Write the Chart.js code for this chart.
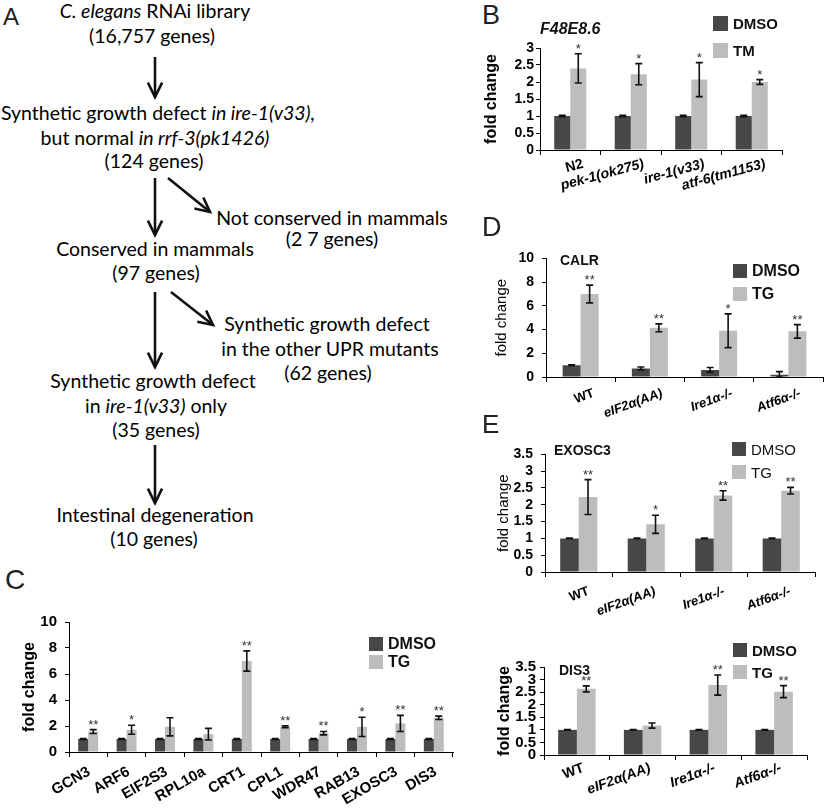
<!DOCTYPE html>
<html lang="en">
<head>
<meta charset="UTF-8">
<title>UPR synthetic growth screen</title>
<script src="https://cdn.jsdelivr.net/npm/chart.js"></script>
<style>
  html, body { margin: 0; padding: 0; background: #fff; overflow: hidden; }
  #page { position: relative; width: 825px; height: 812px; overflow: hidden;
          font-family: "Liberation Sans", Arial, sans-serif; color: #111; }
  .flow { position: absolute; font-family: Lato, "Open Sans", sans-serif; font-size: 19.5px;
          line-height: 19.5px; white-space: nowrap; color: #000; transform: translateX(-50%); }
  .txt { position: absolute; white-space: nowrap; line-height: 1; color: #111; }
  .cat { position: absolute; white-space: nowrap; line-height: 1; color: #000; font-weight: bold;
         transform-origin: 100% 0; }
  .sq { position: absolute; }
  canvas { position: absolute; }
  svg { position: absolute; left: 0; top: 0; }
</style>
</head>
<body>
<div id="page">
  <svg id="arrows" width="440" height="560"></svg>
  <canvas id="chartB"></canvas>
  <canvas id="chartC"></canvas>
  <canvas id="chartD"></canvas>
  <canvas id="chartE1"></canvas>
  <canvas id="chartE2"></canvas>
</div>

<script>
  // ---- data ----
  const catB = ["N2", "pek-1(ok275)", "ire-1(v33)", "atf-6(tm1153)"];
  const dmsoB = [1, 1, 1, 1];
  const dmsoErrB = [0.02, 0.02, 0.02, 0.02];
  const tmB = [2.40, 2.23, 2.07, 2.00];
  const tmErrB = [0.43, 0.31, 0.50, 0.07];
  const starsB = ["*", "*", "*", "*"];

  const catC = ["GCN3", "ARF6", "EIF2S3", "RPL10a", "CRT1", "CPL1", "WDR47", "RAB13", "EXOSC3", "DIS3"];
  const dmsoC = [1, 1, 1, 1, 1, 1, 1, 1, 1, 1];
  const dmsoErrC = [0.04, 0.04, 0.04, 0.04, 0.04, 0.04, 0.04, 0.04, 0.04, 0.04];
  const tgC = [1.57, 1.71, 1.94, 1.37, 7.0, 1.94, 1.45, 1.93, 2.2, 2.63];
  const tgErrC = [0.15, 0.35, 0.70, 0.45, 0.78, 0.07, 0.13, 0.74, 0.62, 0.13];
  const starsC = ["**", "*", "", "", "**", "**", "**", "*", "**", "**"];

  const catMouse = ["WT", "eIF2\u03b1(AA)", "Ire1\u03b1-/-", "Atf6\u03b1-/-"];

  const dmsoD = [1.0, 0.72, 0.6, 0.2];
  const dmsoErrD = [0.03, 0.12, 0.2, 0.25];
  const tgD = [7.0, 4.15, 3.9, 3.85];
  const tgErrD = [0.75, 0.33, 1.42, 0.57];
  const starsD = ["**", "**", "*", "**"];

  const dmsoExosc3 = [1, 1, 1, 1];
  const dmsoErrExosc3 = [0.01, 0.01, 0.01, 0.01];
  const tgExosc3 = [2.23, 1.42, 2.28, 2.42];
  const tgErrExosc3 = [0.52, 0.27, 0.14, 0.10];
  const starsExosc3 = ["**", "*", "**", "**"];

  const dmsoDis3 = [1, 1, 1, 1];
  const dmsoErrDis3 = [0.01, 0.01, 0.01, 0.01];
  const tgDis3 = [2.63, 1.17, 2.78, 2.52];
  const tgErrDis3 = [0.12, 0.10, 0.40, 0.24];
  const starsDis3 = ["**", "", "**", "**"];

  const DARK = "#474747";
  const LIGHT = "#bdbdbd";
  const page = document.getElementById("page");

  // ---- panel A : flow chart text ----
  const flow = [
    ["<i>C. elegans</i> RNAi library", 155, 12],
    ["(16,757 genes)", 152, 37],
    ["Synthetic growth defect <i>in ire-1(v33),</i>", 158, 114],
    ["but normal <i>in rrf-3(pk1426)</i>", 155, 139],
    ["(124 genes)", 154, 162],
    ["Not conserved in mammals", 332, 219],
    ["(2 7 genes)", 332, 240],
    ["Conserved in mammals", 155, 250],
    ["(97 genes)", 156, 274],
    ["Synthetic growth defect", 327, 325],
    ["in the other UPR mutants", 330, 350],
    ["(62 genes)", 328, 374],
    ["Synthetic growth defect", 153, 382],
    ["in <i>ire-1(v33)</i> only", 156, 407],
    ["(35 genes)", 156, 431],
    ["Intestinal degeneration", 155, 516],
    ["(10 genes)", 154, 540]
  ];
  flow.forEach(([html, cx, cy]) => {
    const d = document.createElement("div");
    d.className = "flow";
    d.innerHTML = html;
    d.style.left = cx + "px";
    d.style.top = (cy - 0.58 * 19.5) + "px";
    page.appendChild(d);
  });

  const arrows = [
    [155, 57, 155, 97], [155, 178, 155, 235], [168, 178, 210, 212],
    [155, 292, 155, 367], [171, 292, 213, 325], [155, 445, 155, 503]
  ];
  const svg = document.getElementById("arrows");
  let svgHtml = "";
  arrows.forEach(([x1, y1, x2, y2]) => {
    const a = Math.atan2(y2 - y1, x2 - x1);
    const len = 16, spread = 0.46;
    const p1 = [x2 - len * Math.cos(a - spread), y2 - len * Math.sin(a - spread)];
    const p2 = [x2 - len * Math.cos(a + spread), y2 - len * Math.sin(a + spread)];
    svgHtml += `<line x1="${x1}" y1="${y1}" x2="${x2}" y2="${y2}" stroke="#111" stroke-width="2.6"/>`;
    svgHtml += `<polyline points="${p1[0]},${p1[1]} ${x2},${y2} ${p2[0]},${p2[1]}" fill="none" stroke="#111" stroke-width="2.6" stroke-linejoin="miter"/>`;
  });
  svg.innerHTML = svgHtml;

  // ---- labels, titles, legends ----
  function addText(text, x, cy, size, style) {
    const d = document.createElement("div");
    d.className = "txt";
    d.textContent = text;
    d.style.left = x + "px";
    d.style.top = (cy - size / 2) + "px";
    d.style.fontSize = size + "px";
    Object.assign(d.style, style || {});
    page.appendChild(d);
    return d;
  }
  function addSquare(x, y, w, h, color) {
    const d = document.createElement("div");
    d.className = "sq";
    Object.assign(d.style, { left: x + "px", top: y + "px", width: w + "px", height: h + "px", background: color });
    page.appendChild(d);
  }
  function addLegend(x, y1, y2, sq, size, treat, weight) {
    addSquare(x, y1, sq, sq, DARK);
    addSquare(x, y2, sq, sq, LIGHT);
    addText("DMSO", x + sq + 5, y1 + sq / 2, size, { fontWeight: weight });
    addText(treat, x + sq + 5, y2 + sq / 2, size, { fontWeight: weight });
  }

  addText("A", 3, 17, 24, { color: "#222" });
  addText("B", 482, 15, 27, { color: "#222" });
  addText("C", 5, 580, 28, { color: "#222" });
  addText("D", 482, 227, 27, { color: "#222" });
  addText("E", 482, 424, 26, { color: "#222" });

  addText("F48E8.6", 540, 29, 16, { fontWeight: "bold", fontStyle: "italic" });
  addText("CALR", 560, 260, 14, { fontWeight: "bold" });
  addText("EXOSC3", 554, 450, 14, { fontWeight: "bold" });
  addText("DIS3", 559, 670, 14, { fontWeight: "bold" });

  addLegend(713, 16, 43, 15, 15, "TM", "bold");
  addLegend(369, 637, 655, 14, 16, "TG", "bold");
  addLegend(733, 264, 287, 14, 16, "TG", "bold");
  addLegend(732, 442, 465, 14, 15, "TG", "normal");
  addLegend(733, 643, 665, 14, 15, "TG", "bold");

  // ---- error bars + significance stars ----
  const errorBars = {
    id: "errorBars",
    afterDatasetsDraw(chart) {
      const ctx = chart.ctx;
      const yScale = chart.scales.y;
      ctx.save();
      chart.data.datasets.forEach((ds, di) => {
        const meta = chart.getDatasetMeta(di);
        meta.data.forEach((bar, i) => {
          const v = ds.data[i], e = ds.errors[i];
          const yHi = yScale.getPixelForValue(v + e);
          const yLo = yScale.getPixelForValue(Math.max(v - e, 0));
          ctx.strokeStyle = "#111";
          ctx.lineWidth = 1.6;
          ctx.beginPath();
          ctx.moveTo(bar.x, yHi); ctx.lineTo(bar.x, yLo);
          ctx.moveTo(bar.x - 3.5, yHi); ctx.lineTo(bar.x + 3.5, yHi);
          ctx.moveTo(bar.x - 3.5, yLo); ctx.lineTo(bar.x + 3.5, yLo);
          ctx.stroke();
          if (ds.stars && ds.stars[i]) {
            ctx.fillStyle = "#333";
            ctx.font = "13px 'Liberation Sans', Arial";
            ctx.textAlign = "center";
            ctx.textBaseline = "alphabetic";
            ctx.fillText(ds.stars[i], bar.x, yHi - 1);
          }
        });
      });
      ctx.restore();
    }
  };

  // slanted category labels as page text, anchored at the x scale's tick positions
  function slantLabels(chart, left, top, o) {
    const xs = chart.scales.x;
    chart.data.labels.forEach((lab, i) => {
      const d = document.createElement("div");
      d.className = "cat";
      d.textContent = lab;
      d.style.fontSize = o.xSize + "px";
      d.style.fontStyle = (o.italic && i > 0) ? "italic" : "normal";
      page.appendChild(d);
      const ax = left + xs.getPixelForTick(i) + o.dx;
      const ay = top + xs.top + o.dy;
      d.style.left = (ax - d.offsetWidth) + "px";
      d.style.top = ay + "px";
      d.style.transform = "rotate(" + (-o.rot) + "deg)";
    });
  }

  function barChart(id, g, labels, dmso, dmsoErr, tg, tgErr, stars, o) {
    const cv = document.getElementById(id);
    const padTop = 14, padRight = 12;
    const x = g.axisX - o.yW, y = g.yTop - padTop;
    const w = g.axisRight + padRight - x, h = g.yBot + o.xH - y;
    cv.width = w; cv.height = h;
    cv.style.left = x + "px"; cv.style.top = y + "px";
    const chart = new Chart(cv, {
      type: "bar",
      data: {
        labels: labels,
        datasets: [
          { label: "DMSO", data: dmso, errors: dmsoErr, backgroundColor: DARK,
            barPercentage: 1, categoryPercentage: o.cat },
          { label: o.treat, data: tg, errors: tgErr, stars: stars, backgroundColor: LIGHT,
            barPercentage: 1, categoryPercentage: o.cat }
        ]
      },
      options: {
        responsive: false,
        animation: false,
        layout: { padding: { top: padTop, right: padRight, left: 0, bottom: 0 } },
        plugins: { legend: { display: false }, tooltip: { enabled: false } },
        scales: {
          x: {
            grid: { drawOnChartArea: false, tickLength: 5, color: "#000", offset: true },
            border: { color: "#000", width: 1 },
            ticks: { display: false },
            afterFit: (s) => { s.height = o.xH; }
          },
          y: {
            min: 0, max: o.max,
            border: { color: "#000", width: 1 },
            grid: { drawOnChartArea: false, tickLength: 4, color: "#000" },
            ticks: { stepSize: o.step, autoSkip: false, color: "#000", padding: o.tickPad,
                     callback: (v) => String(Math.round(v * 10) / 10),
                     font: { family: "'Liberation Sans', Arial", size: o.ySize, weight: "bold" } },
            title: { display: true, text: "fold change", color: "#000", padding: { top: 2, bottom: 0 },
                     font: { family: "'Liberation Sans', Arial", size: o.tSize, weight: o.tWeight } },
            afterFit: (s) => { s.width = o.yW; }
          }
        }
      },
      plugins: [errorBars]
    });
    slantLabels(chart, x, y, o);
    return chart;
  }

  barChart("chartB", { axisX: 540, axisRight: 782, yTop: 48, yBot: 150 },
    catB, dmsoB, dmsoErrB, tmB, tmErrB, starsB,
    { treat: "TM", max: 3, step: 0.5, yW: 60, xH: 75, cat: 0.53, rot: 15, dx: 11, dy: 6,
      xSize: 14, italic: true, ySize: 14, tickPad: 2, tSize: 16, tWeight: "bold" });

  barChart("chartC", { axisX: 69, axisRight: 453, yTop: 619, yBot: 752 },
    catC, dmsoC, dmsoErrC, tgC, tgErrC, starsC,
    { treat: "TG", max: 10, step: 2, yW: 51, xH: 62, cat: 0.52, rot: 30, dx: -3, dy: 11,
      xSize: 15, italic: false, ySize: 15, tickPad: 8, tSize: 16, tWeight: "bold" });

  barChart("chartD", { axisX: 546, axisRight: 823, yTop: 256, yBot: 377 },
    catMouse, dmsoD, dmsoErrD, tgD, tgErrD, starsD,
    { treat: "TG", max: 10, step: 2, yW: 55, xH: 45, cat: 0.52, rot: 20, dx: 10, dy: 9,
      xSize: 13, italic: true, ySize: 14, tickPad: 8, tSize: 15, tWeight: "normal" });

  barChart("chartE1", { axisX: 545, axisRight: 815, yTop: 452, yBot: 572 },
    catMouse, dmsoExosc3, dmsoErrExosc3, tgExosc3, tgErrExosc3, starsExosc3,
    { treat: "TG", max: 3.5, step: 0.5, yW: 52, xH: 45, cat: 0.55, rot: 20, dx: 7, dy: 12,
      xSize: 13, italic: true, ySize: 14, tickPad: 8, tSize: 15, tWeight: "normal" });

  barChart("chartE2", { axisX: 544, axisRight: 807, yTop: 667, yBot: 755 },
    catMouse, dmsoDis3, dmsoErrDis3, tgDis3, tgErrDis3, starsDis3,
    { treat: "TG", max: 3.5, step: 0.5, yW: 51, xH: 55, cat: 0.57, rot: 20, dx: 4, dy: 5,
      xSize: 14, italic: true, ySize: 15, tickPad: 4, tSize: 16, tWeight: "bold" });
</script>
</body>
</html>
